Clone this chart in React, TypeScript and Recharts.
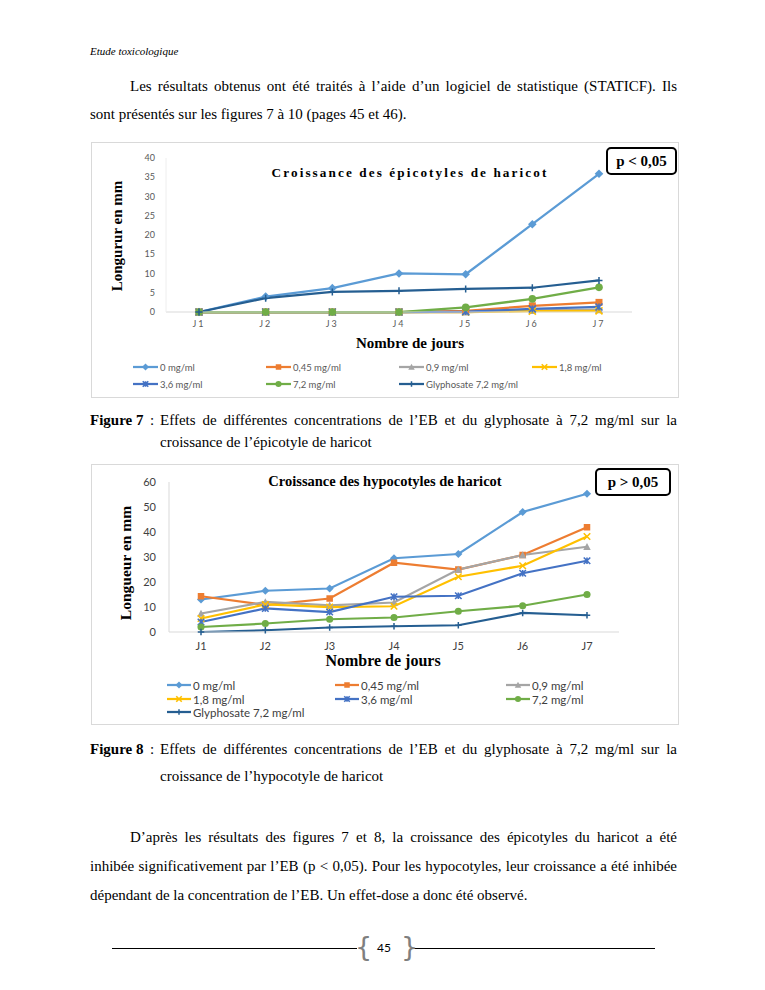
import React from 'react';
import { LineChart, Line, XAxis, YAxis } from 'recharts';

// ---------- data ----------
const days = ['J1', 'J2', 'J3', 'J4', 'J5', 'J6', 'J7'];
const seriesNames = ['0 mg/ml', '0,45 mg/ml', '0,9 mg/ml', '1,8 mg/ml', '3,6 mg/ml', '7,2 mg/ml', 'Glyphosate 7,2 mg/ml'];
const seriesColors = ['#5B9BD5', '#ED7D31', '#A5A5A5', '#FFC000', '#4472C4', '#70AD47', '#255E91'];
const seriesMarkers = ['diamond', 'square', 'triangle', 'x', 'star', 'circle', 'plus'];

// Figure 7 : épicotyles
const epi0 = [0, 4, 6.2, 10, 9.8, 22.8, 35.9];
const epi045 = [0, 0, 0, 0, 0.3, 1.6, 2.5];
const epi09 = [0, 0, 0, 0, 0, 0.4, 0.6];
const epi18 = [0, 0, 0, 0, 0, 0.2, 0.3];
const epi36 = [0, 0, 0, 0, 0.1, 0.8, 1.3];
const epi72 = [0, 0, 0, 0, 1.2, 3.4, 6.4];
const epiGly = [0, 3.6, 5.2, 5.5, 6.0, 6.3, 8.2];
const epiTicks = [0, 5, 10, 15, 20, 25, 30, 35, 40];

// Figure 8 : hypocotyles
const hyp0 = [13, 16.5, 17.4, 29.5, 31.2, 48, 55.3];
const hyp045 = [14.3, 10.8, 13.4, 27.7, 25, 30.8, 41.9];
const hyp09 = [7.4, 12, 10.7, 11.8, 25, 30.8, 34.1];
const hyp18 = [5.4, 11, 10, 10.3, 22.1, 26.5, 38.2];
const hyp36 = [4, 9.4, 8, 14.1, 14.5, 23.5, 28.5];
const hyp72 = [2, 3.4, 5.1, 5.8, 8.3, 10.5, 15];
const hypGly = [0, 0.7, 1.8, 2.3, 2.7, 7.6, 6.7];
const hypTicks = [0, 10, 20, 30, 40, 50, 60];

const epiSeries = [epi0, epi045, epi09, epi18, epi36, epi72, epiGly];
const hypSeries = [hyp0, hyp045, hyp09, hyp18, hyp36, hyp72, hypGly];

const buildRows = (series: number[][]) =>
  days.map((d, i) => {
    const row: any = { day: d };
    series.forEach((s, k) => { row['s' + k] = s[i]; });
    return row;
  });

const epiData = buildRows(epiSeries);
const hypData = buildRows(hypSeries);

// ---------- markers ----------
function Marker({ shape, color, cx, cy, s }: any) {
  const h = s / 2;
  switch (shape) {
    case 'diamond':
      return <path d={`M${cx},${cy - h - 0.8}L${cx + h + 0.8},${cy}L${cx},${cy + h + 0.8}L${cx - h - 0.8},${cy}Z`} fill={color} />;
    case 'square':
      return <rect x={cx - h} y={cy - h} width={s} height={s} fill={color} />;
    case 'triangle':
      return <path d={`M${cx},${cy - h - 0.5}L${cx + h + 0.5},${cy + h}L${cx - h - 0.5},${cy + h}Z`} fill={color} />;
    case 'x':
      return <path d={`M${cx - h},${cy - h}L${cx + h},${cy + h}M${cx + h},${cy - h}L${cx - h},${cy + h}`} stroke={color} strokeWidth={1.6} fill="none" />;
    case 'star':
      return <path d={`M${cx - h},${cy - h}L${cx + h},${cy + h}M${cx + h},${cy - h}L${cx - h},${cy + h}M${cx},${cy - h}L${cx},${cy + h}`} stroke={color} strokeWidth={1.6} fill="none" />;
    case 'circle':
      return <circle cx={cx} cy={cy} r={h + 0.3} fill={color} />;
    case 'plus':
      return <path d={`M${cx - h},${cy}L${cx + h},${cy}M${cx},${cy - h}L${cx},${cy + h}`} stroke={color} strokeWidth={1.5} fill="none" />;
    default:
      return null;
  }
}

const makeDot = (k: number, s: number) => (p: any) => (
  <g key={`d${k}-${p.index}`}>
    {p.cx != null && p.cy != null ? <Marker shape={seriesMarkers[k]} color={seriesColors[k]} cx={p.cx} cy={p.cy} s={s} /> : null}
  </g>
);

// ---------- page text helpers ----------
const SERIF = '"Liberation Serif", "Times New Roman", serif';
const SANS = 'Lato, "Liberation Sans", sans-serif';

function TL({ x, y, w, size = 15, justify = false, children, style }: any) {
  const lh = Math.round(size * 1.25);
  return (
    <div
      style={{
        position: 'absolute',
        left: x,
        top: y - lh / 2,
        width: w,
        height: lh,
        lineHeight: `${lh}px`,
        fontSize: size,
        whiteSpace: 'nowrap',
        textAlign: justify ? 'justify' : 'left',
        textAlignLast: justify ? 'justify' : 'auto',
        ...style,
      }}
    >
      {children}
    </div>
  );
}

function LegendItem({ k, x, y, size, color, lineW }: any) {
  return (
    <div style={{ position: 'absolute', left: x, top: y - 8, height: 16, display: 'flex', alignItems: 'center', fontFamily: SANS, fontSize: size, color, whiteSpace: 'nowrap' }}>
      <svg width={lineW} height={12} style={{ marginRight: 2 }}>
        <line x1={0} y1={6} x2={lineW} y2={6} stroke={seriesColors[k]} strokeWidth={2.25} />
        <Marker shape={seriesMarkers[k]} color={seriesColors[k]} cx={lineW / 2} cy={6} s={5.5} />
      </svg>
      <span>{seriesNames[k]}</span>
    </div>
  );
}

const epiLegendPos = [[133, 367], [266, 367], [399, 367], [532, 367], [133, 384], [266, 384], [399, 384]];
const hypLegendPos = [[167, 685], [335, 685], [506, 685], [167, 699], [335, 699], [506, 699], [167, 712]];

export default function App() {
  return (
    <div style={{ position: 'absolute', left: 0, top: 0, width: 765, height: 990, background: '#fff', fontFamily: SERIF, color: '#000', overflow: 'hidden' }}>
      {/* header */}
      <TL x={90} y={51} size={11} style={{ fontStyle: 'italic' }}>Etude toxicologique</TL>

      <TL x={130} y={86} w={547} justify>Les résultats obtenus ont été traités à l’aide d’un logiciel de statistique (STATICF). Ils</TL>
      <TL x={90} y={114}>sont présentés sur les figures 7 à 10 (pages 45 et 46).</TL>

      {/* ---------- Figure 7 ---------- */}
      <div style={{ position: 'absolute', left: 91, top: 142, width: 588, height: 256, border: '1px solid #d9d9d9', boxSizing: 'border-box' }} />
      <div style={{ position: 'absolute', left: 91, top: 142 }}>
        <LineChart width={588} height={256} data={epiData} margin={{ top: 16, right: 47, left: 0, bottom: 56 }}>
          <XAxis
            dataKey="day"
            height={30}
            padding={{ left: 33, right: 33 }}
            axisLine={{ stroke: '#d9d9d9' }}
            tickLine={false}
            tickSize={0}
            tickMargin={9}
            tick={{ fill: '#595959', fontSize: 9, fontFamily: SANS, letterSpacing: 2 }}
          />
          <YAxis
            width={75}
            domain={[0, 40]}
            ticks={epiTicks}
            interval={0}
            axisLine={{ stroke: '#eeeeee' }}
            tickLine={false}
            tickSize={0}
            tickMargin={11}
            tick={{ fill: '#595959', fontSize: 9, fontFamily: SANS }}
          />
          {epiSeries.map((_, k) => (
            <Line key={k} type="linear" dataKey={'s' + k} stroke={seriesColors[k]} strokeWidth={2.25} dot={makeDot(k, 7)} activeDot={false} isAnimationActive={false} />
          ))}
        </LineChart>
      </div>
      <TL x={240} y={172} w={340} size={13.2} style={{ fontWeight: 'bold', letterSpacing: 2.1, textAlign: 'center' }}>Croissance des épicotyles de haricot</TL>
      <div style={{ position: 'absolute', left: 117, top: 236, transform: 'translate(-50%, -50%) rotate(-90deg)', fontWeight: 'bold', fontSize: 15, whiteSpace: 'nowrap', lineHeight: '18px' }}>Longurur en mm</div>
      <TL x={330} y={343} w={160} size={15} style={{ fontWeight: 'bold', textAlign: 'center' }}>Nombre de jours</TL>
      <div style={{ position: 'absolute', left: 606, top: 147, width: 71, height: 28, border: '2px solid #000', borderRadius: 5, boxSizing: 'border-box', display: 'flex', alignItems: 'center', justifyContent: 'center', fontWeight: 'bold', fontSize: 15, background: '#fff' }}>p &lt; 0,05</div>
      {epiLegendPos.map(([x, y], k) => (
        <LegendItem key={k} k={k} x={x} y={y} size={9.5} color="#595959" lineW={25} />
      ))}

      {/* caption 7 */}
      <TL x={90} y={420} style={{ fontWeight: 'bold' }}>Figure 7</TL>
      <TL x={150} y={420}>:</TL>
      <TL x={160} y={420} w={517} justify>Effets de différentes concentrations de l’EB et du glyphosate à 7,2 mg/ml sur la</TL>
      <TL x={160} y={442}>croissance de l’épicotyle de haricot</TL>

      {/* ---------- Figure 8 ---------- */}
      <div style={{ position: 'absolute', left: 91, top: 464, width: 588, height: 261, border: '1px solid #d9d9d9', boxSizing: 'border-box' }} />
      <div style={{ position: 'absolute', left: 91, top: 464 }}>
        <LineChart width={588} height={261} data={hypData} margin={{ top: 18, right: 60, left: 0, bottom: 63 }}>
          <XAxis
            dataKey="day"
            height={30}
            padding={{ left: 32, right: 32 }}
            axisLine={{ stroke: '#d9d9d9' }}
            tickLine={false}
            tickSize={0}
            tickMargin={10}
            tick={{ fill: '#404040', fontSize: 11, fontFamily: SANS }}
          />
          <YAxis
            width={78}
            domain={[0, 60]}
            ticks={hypTicks}
            interval={0}
            axisLine={{ stroke: '#d9d9d9' }}
            tickLine={false}
            tickSize={0}
            tickMargin={13}
            tick={{ fill: '#404040', fontSize: 11, fontFamily: SANS }}
          />
          {hypSeries.map((_, k) => (
            <Line key={k} type="linear" dataKey={'s' + k} stroke={seriesColors[k]} strokeWidth={2.25} dot={makeDot(k, 6.5)} activeDot={false} isAnimationActive={false} />
          ))}
        </LineChart>
      </div>
      <TL x={235} y={481} w={300} size={14.5} style={{ fontWeight: 'bold', textAlign: 'center' }}>Croissance des hypocotyles de haricot</TL>
      <div style={{ position: 'absolute', left: 126, top: 563, transform: 'translate(-50%, -50%) rotate(-90deg)', fontWeight: 'bold', fontSize: 15.5, whiteSpace: 'nowrap', lineHeight: '18px' }}>Longueur en mm</div>
      <TL x={303} y={661} w={160} size={16} style={{ fontWeight: 'bold', textAlign: 'center', lineHeight: '16px', height: 16, top: 653 }}>Nombre de jours</TL>
      <div style={{ position: 'absolute', left: 595, top: 468, width: 76, height: 28, border: '2px solid #000', borderRadius: 5, boxSizing: 'border-box', display: 'flex', alignItems: 'center', justifyContent: 'center', fontWeight: 'bold', fontSize: 15, background: '#fff' }}>p &gt; 0,05</div>
      {hypLegendPos.map(([x, y], k) => (
        <LegendItem key={k} k={k} x={x} y={y} size={11.5} color="#404040" lineW={24} />
      ))}

      {/* caption 8 */}
      <TL x={90} y={749} style={{ fontWeight: 'bold' }}>Figure 8</TL>
      <TL x={150} y={749}>:</TL>
      <TL x={160} y={749} w={517} justify>Effets de différentes concentrations de l’EB et du glyphosate à 7,2 mg/ml sur la</TL>
      <TL x={160} y={776}>croissance de l’hypocotyle de haricot</TL>

      {/* paragraph */}
      <TL x={130} y={837} w={547} justify>D’après les résultats des figures 7 et 8, la croissance des épicotyles du haricot a été</TL>
      <TL x={90} y={866} w={587} justify>inhibée significativement par l’EB (p &lt; 0,05). Pour les hypocotyles, leur croissance a été inhibée</TL>
      <TL x={90} y={895}>dépendant de la concentration de l’EB. Un effet-dose a donc été observé.</TL>

      {/* footer */}
      <div style={{ position: 'absolute', left: 112, top: 948, width: 245, height: 1, background: '#000' }} />
      <div style={{ position: 'absolute', left: 413, top: 948, width: 242, height: 1, background: '#000' }} />
      <div style={{ position: 'absolute', left: 355, top: 931, fontFamily: '"DejaVu Sans", sans-serif', fontSize: 27, color: '#7f7f7f', lineHeight: '32px' }}>{'{'}</div>
      <div style={{ position: 'absolute', left: 401, top: 931, fontFamily: '"DejaVu Sans", sans-serif', fontSize: 27, color: '#7f7f7f', lineHeight: '32px' }}>{'}'}</div>
      <div style={{ position: 'absolute', left: 377, top: 941, fontFamily: SANS, fontSize: 12, color: '#000', lineHeight: '14px' }}>45</div>
    </div>
  );
}
